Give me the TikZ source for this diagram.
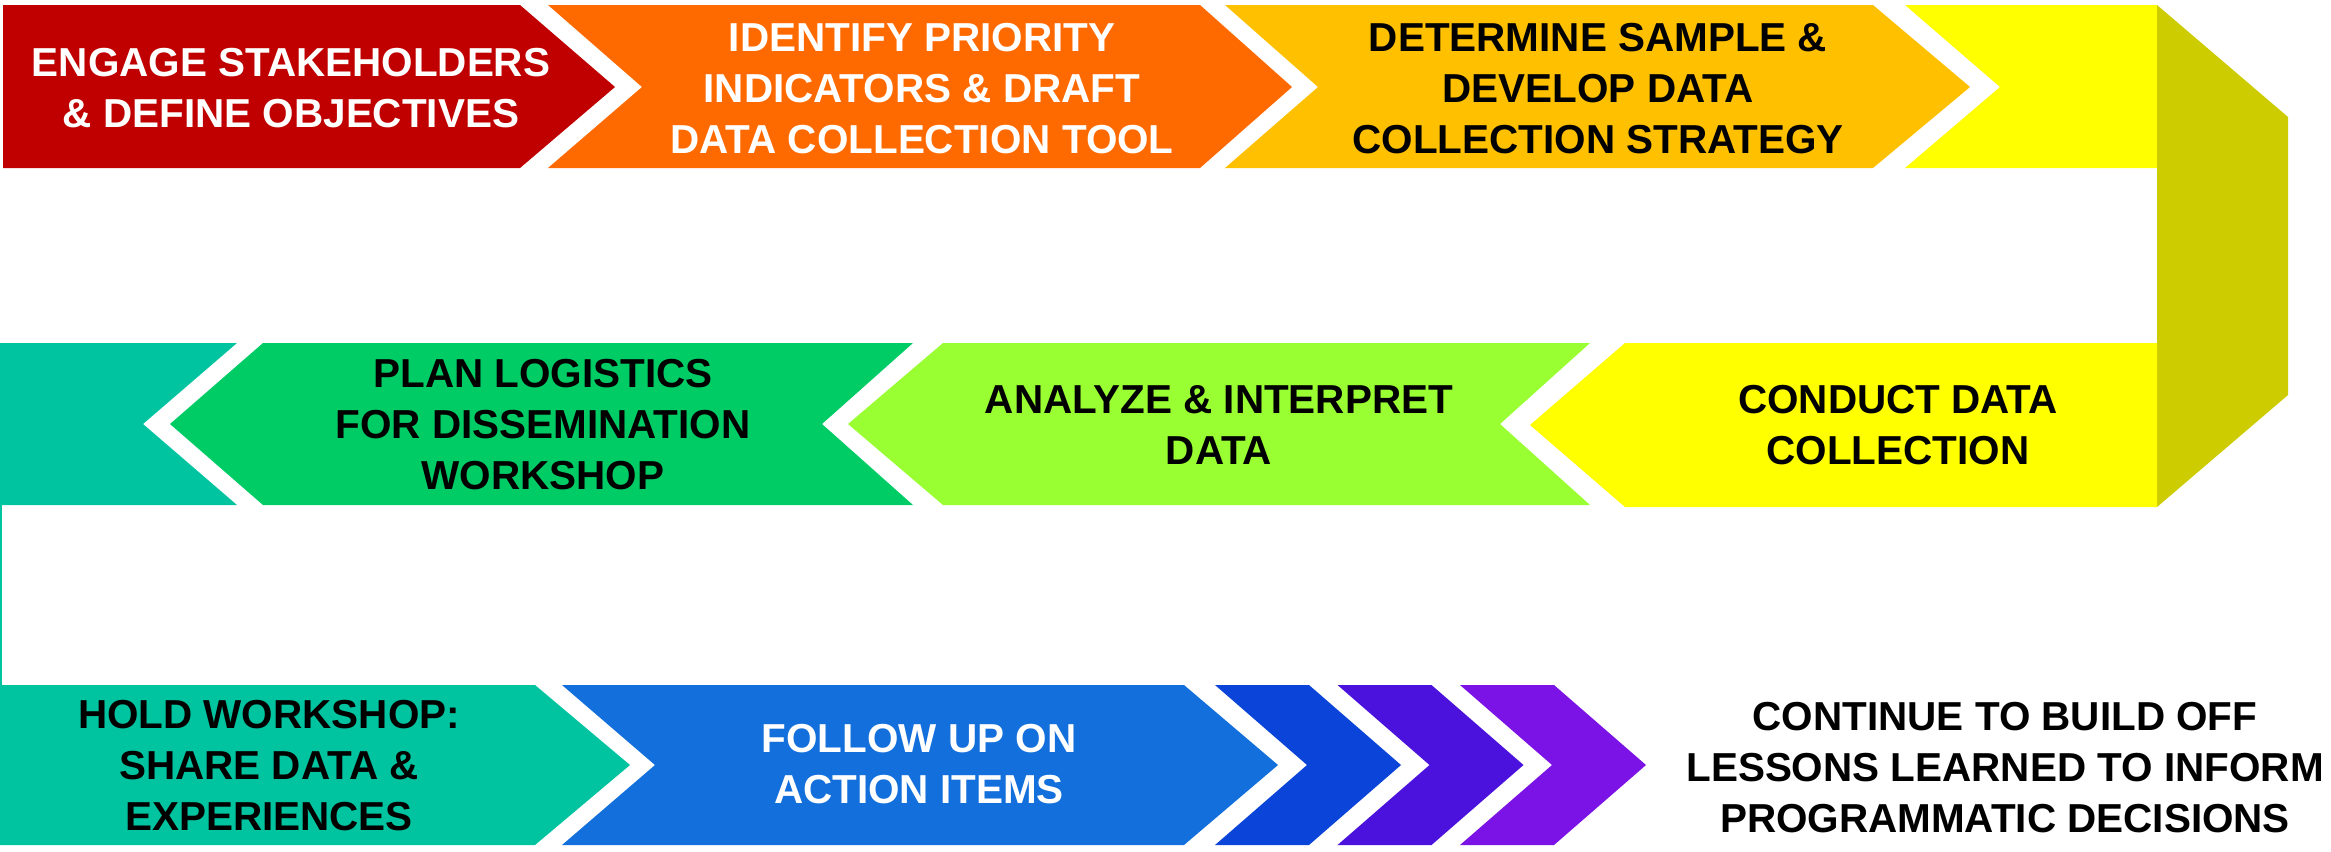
\documentclass[tikz,border=0pt]{standalone}
\usepackage{fontspec}
\setsansfont{Liberation Sans}
\definecolor{stepred}{HTML}{C00000}
\definecolor{steporange}{HTML}{FF6A00}
\definecolor{stepamber}{HTML}{FFC000}
\definecolor{stepyellow}{HTML}{FFFF00}
\definecolor{stepfold}{HTML}{CCCC00}
\definecolor{steplime}{HTML}{99FF33}
\definecolor{stepgreen}{HTML}{00CC66}
\definecolor{stepteal}{HTML}{00C4A0}
\definecolor{stepblue}{HTML}{126FDB}
\begin{document}
\begin{tikzpicture}[x=0.01cm,y=-0.01cm,
    lbl/.style={font=\sffamily\bfseries\fontsize{11.5}{14.5}\selectfont,align=center,inner sep=0pt}]
\useasboundingbox (0,0) rectangle (2331,851);
%row 1
    \fill[stepred] (3,5) -- (520,5) -- (615,87) -- (520,168) -- (3,168) -- cycle;
    \fill[steporange] (548,5) -- (1200,5) -- (1292,87) -- (1200,168) -- (548,168) -- (642,87) -- cycle;
    \fill[stepamber] (1225,5) -- (1873,5) -- (1970,87) -- (1873,168) -- (1225,168) -- (1318,87) -- cycle;
    \fill[stepyellow] (1905,5) -- (2157,5) -- (2157,168) -- (1905,168) -- (2000,87) -- cycle;
    \fill[stepfold] (2157,5) -- (2288,117) -- (2288,395) -- (2157,507) -- cycle;
%row 2
    \fill[stepyellow] (2157,343) -- (2157,507) -- (1625,507) -- (1530,425) -- (1625,343) -- cycle;
    \fill[steplime] (1590,343) -- (1500,424) -- (1590,505) -- (943,505) -- (848,424) -- (943,343) -- cycle;
    \fill[stepgreen] (913,343) -- (822,424) -- (913,505) -- (263,505) -- (170,424) -- (263,343) -- cycle;
    \fill[stepteal] (0,343) -- (237,343) -- (143,424) -- (237,505) -- (0,505) -- cycle;
    \draw[stepteal, line width=0.6pt] (1,505) -- (1,687);
%row 3
    \fill[stepteal] (0,685) -- (535,685) -- (630,765) -- (535,845) -- (0,845) -- cycle;
    \fill[stepblue] (562,685) -- (1184,685) -- (1278,765) -- (1184,845) -- (562,845) -- (655,765) -- cycle;
    \foreach \i/\c in {0/0A44D8,1/4B12DE,2/7B12E6}
    {
    	\definecolor{tmp}{HTML}{\c}
    	\fill[tmp] (1215+122.5*\i,685) -- (1309+122.5*\i,685) -- (1401+122.5*\i,765) -- (1309+122.5*\i,845) -- (1215+122.5*\i,845) -- (1307+122.5*\i,765) -- cycle;
    }
%labels
    \node[lbl,white] (engage) at (291,88) {ENGAGE STAKEHOLDERS\\\& DEFINE OBJECTIVES};
    \node[lbl,white] (identify) at (922,89) {IDENTIFY PRIORITY\\INDICATORS \& DRAFT\\DATA COLLECTION TOOL};
    \node[lbl] (determine) at (1598,89) {DETERMINE SAMPLE \&\\DEVELOP DATA\\COLLECTION STRATEGY};
    \node[lbl] (conduct) at (1898,425) {CONDUCT DATA\\COLLECTION};
    \node[lbl] (analyze) at (1219,425) {ANALYZE \& INTERPRET\\DATA};
    \node[lbl] (plan) at (543,425) {PLAN LOGISTICS\\FOR DISSEMINATION\\WORKSHOP};
    \node[lbl] (hold) at (269,766) {HOLD WORKSHOP:\\SHARE DATA \&\\EXPERIENCES};
    \node[lbl,white] (follow) at (919,764) {FOLLOW UP ON\\ACTION ITEMS};
    \node[lbl] (continue) at (2005,768) {CONTINUE TO BUILD OFF\\LESSONS LEARNED TO INFORM\\PROGRAMMATIC DECISIONS};
\end{tikzpicture}
\end{document}
